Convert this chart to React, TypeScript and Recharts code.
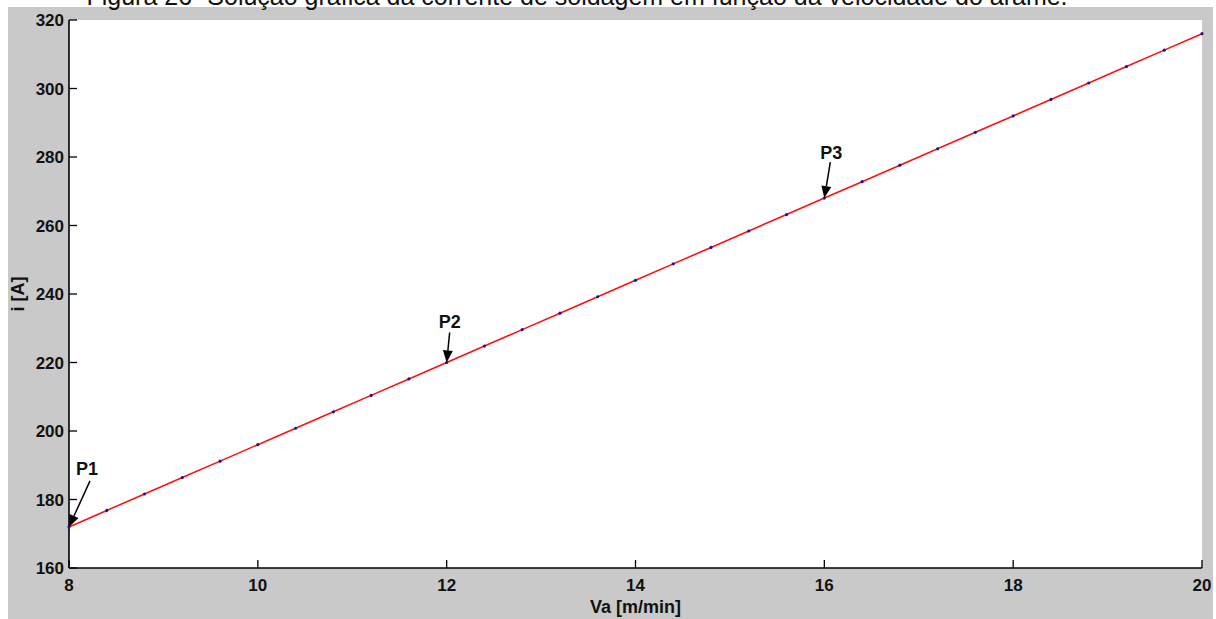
import React from 'react';
import { ComposedChart, Line, Scatter, XAxis, YAxis, CartesianGrid } from 'recharts';

const titleText = 'Figura 26- Solução gráfica da corrente de soldagem em função da velocidade do arame.';
const xLabel = 'Va [m/min]';
const yLabel = 'i [A]';

const xTicks = [8, 10, 12, 14, 16, 18, 20];
const yTicks = [160, 180, 200, 220, 240, 260, 280, 300, 320];

const vaValues = [8, 8.4, 8.8, 9.2, 9.6, 10, 10.4, 10.8, 11.2, 11.6, 12, 12.4, 12.8, 13.2, 13.6, 14, 14.4, 14.8, 15.2, 15.6, 16, 16.4, 16.8, 17.2, 17.6, 18, 18.4, 18.8, 19.2, 19.6, 20];
const currentValues = [172, 176.8, 181.6, 186.4, 191.2, 196, 200.8, 205.6, 210.4, 215.2, 220, 224.8, 229.6, 234.4, 239.2, 244, 248.8, 253.6, 258.4, 263.2, 268, 272.8, 277.6, 282.4, 287.2, 292, 296.8, 301.6, 306.4, 311.2, 316];

const pointLabels = ['P1', 'P2', 'P3'];
const pointVa = [8, 12, 16];
const pointCurrent = [172, 220, 268];

// pixel offsets of arrow tails / labels (style only)
const arrowStyle: Record<string, { tx: number; ty: number; lx: number; ly: number }> = {
  P1: { tx: 21, ty: -46, lx: 18, ly: -58 },
  P2: { tx: 3, ty: -30, lx: 3, ly: -41 },
  P3: { tx: 6, ty: -36, lx: 7, ly: -46 },
};

const lineData = vaValues.map((va, k) => ({ va, i: currentValues[k] }));
const pointData = pointLabels.map((label, k) => ({ va: pointVa[k], i: pointCurrent[k], label }));

const FONT = '"Liberation Sans", Arial, Helvetica, sans-serif';
const TICK_LEN = 8;

const BottomTick = (props: any) => {
  const { x, y, payload } = props;
  return (
    <g>
      <line x1={x} x2={x} y1={y} y2={y - TICK_LEN} stroke="#000" strokeWidth={1.3} />
      <text x={x} y={y + 23} textAnchor="middle" fontFamily={FONT} fontWeight="bold" fontSize={17} fill="#111">
        {payload.value}
      </text>
    </g>
  );
};

const TopTick = (props: any) => {
  const { x, y } = props;
  return <line x1={x} x2={x} y1={y} y2={y + TICK_LEN} stroke="#000" strokeWidth={1.3} />;
};

const LeftTick = (props: any) => {
  const { x, y, payload } = props;
  return (
    <g>
      <line x1={x} x2={x + TICK_LEN} y1={y} y2={y} stroke="#000" strokeWidth={1.3} />
      <text x={x - 5} y={y + 6} textAnchor="end" fontFamily={FONT} fontWeight="bold" fontSize={17} fill="#111">
        {payload.value}
      </text>
    </g>
  );
};

const RightTick = (props: any) => {
  const { x, y } = props;
  return <line x1={x} x2={x - TICK_LEN} y1={y} y2={y} stroke="#000" strokeWidth={1.3} />;
};

const ArrowShape = (props: any) => {
  const { cx, cy, payload } = props;
  const s = arrowStyle[payload.label];
  const tx = cx + s.tx;
  const ty = cy + s.ty;
  const dx = cx - tx;
  const dy = cy - ty;
  const len = Math.sqrt(dx * dx + dy * dy);
  const ux = dx / len;
  const uy = dy / len;
  const headLen = 12;
  const headW = 5;
  const bx = cx - ux * headLen;
  const by = cy - uy * headLen;
  const px = -uy;
  const py = ux;
  return (
    <g>
      <line x1={tx} y1={ty} x2={bx} y2={by} stroke="#000" strokeWidth={1.5} />
      <polygon
        points={`${cx},${cy} ${bx + px * headW},${by + py * headW} ${bx - px * headW},${by - py * headW}`}
        fill="#000"
      />
      <text x={cx + s.lx} y={cy + s.ly + 6.5} textAnchor="middle" fontFamily={FONT} fontWeight="bold" fontSize={18} fill="#111">
        {payload.label}
      </text>
    </g>
  );
};

const YLabelContent = (props: any) => {
  const { viewBox } = props;
  const cx = 18;
  const cy = viewBox.y + viewBox.height / 2;
  return (
    <text x={cx} y={cy} transform={`rotate(-90 ${cx} ${cy})`} textAnchor="middle" dominantBaseline="central" fontFamily={FONT} fontWeight="bold" fontSize={18} fill="#111">
      {yLabel}
    </text>
  );
};

const XLabelContent = (props: any) => {
  const { viewBox } = props;
  const cx = viewBox.x + viewBox.width / 2;
  return (
    <text x={cx} y={613} textAnchor="middle" fontFamily={FONT} fontWeight="bold" fontSize={18} fill="#111">
      {xLabel}
    </text>
  );
};

export default function App() {
  return (
    <div style={{ position: 'absolute', left: 0, top: 0, width: 1216, height: 619, background: '#fff', overflow: 'hidden' }}>
      <div style={{ position: 'absolute', left: 8, top: 7, width: 1205, height: 612, background: '#c9c9c9' }} />
      <div style={{ position: 'absolute', left: 0, top: 0 }}>
        <ComposedChart width={1216} height={619} margin={{ top: 20, right: 14, bottom: 0, left: 0 }}>
          <CartesianGrid fill="#ffffff" horizontal={false} vertical={false} xAxisId="b" yAxisId="l" />
          <XAxis
            xAxisId="b"
            dataKey="va"
            type="number"
            domain={[8, 20]}
            ticks={xTicks}
            orientation="bottom"
            height={51}
            tickSize={0}
            tickMargin={0}
            tickLine={false}
            axisLine={{ stroke: '#000', strokeWidth: 1.6 }}
            tick={<BottomTick />}
            interval={0}
            label={{ content: <XLabelContent /> }}
          />
          <XAxis
            xAxisId="t"
            dataKey="va"
            type="number"
            domain={[8, 20]}
            ticks={xTicks}
            orientation="top"
            height={0}
            tickSize={0}
            tickMargin={0}
            tickLine={false}
            axisLine={{ stroke: '#000', strokeWidth: 1.6 }}
            tick={<TopTick />}
            interval={0}
          />
          <YAxis
            yAxisId="l"
            dataKey="i"
            type="number"
            domain={[160, 320]}
            ticks={yTicks}
            orientation="left"
            width={69}
            tickSize={0}
            tickMargin={0}
            tickLine={false}
            axisLine={{ stroke: '#000', strokeWidth: 1.6 }}
            tick={<LeftTick />}
            interval={0}
            label={{ content: <YLabelContent /> }}
          />
          <YAxis
            yAxisId="r"
            dataKey="i"
            type="number"
            domain={[160, 320]}
            ticks={yTicks}
            orientation="right"
            width={0}
            tickSize={0}
            tickMargin={0}
            tickLine={false}
            axisLine={{ stroke: '#000', strokeWidth: 1.6 }}
            tick={<RightTick />}
            interval={0}
          />
          <Line
            xAxisId="b"
            yAxisId="l"
            data={lineData}
            dataKey="i"
            type="linear"
            stroke="#ff1010"
            strokeWidth={1.6}
            dot={{ r: 1.6, fill: '#1a1a90', stroke: 'none' }}
            isAnimationActive={false}
          />
          <Scatter
            xAxisId="b"
            yAxisId="l"
            data={pointData}
            dataKey="i"
            shape={<ArrowShape />}
            isAnimationActive={false}
          />
        </ComposedChart>
      </div>
      <svg width={1216} height={20} style={{ position: 'absolute', left: 0, top: 0 }}>
        <text x={577} y={5} textAnchor="middle" fontFamily={FONT} fontSize={25} fill="#111">
          {titleText}
        </text>
      </svg>
    </div>
  );
}
